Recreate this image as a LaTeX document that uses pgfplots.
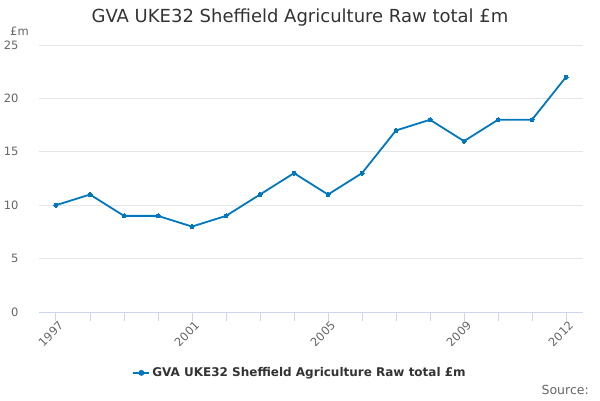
\documentclass[border=0pt]{standalone}
\usepackage{pgfplots}
\pgfplotsset{compat=1.18}
\usepackage{fontspec}
\setmainfont{DejaVu Sans}
\definecolor{linecol}{RGB}{0,119,190}
\definecolor{gridcol}{RGB}{230,230,230}
\definecolor{axiscol}{RGB}{204,214,235}
\definecolor{labcol}{RGB}{102,102,102}
\definecolor{titlecol}{RGB}{51,51,51}
\begin{document}
\begin{tikzpicture}[x=1pt,y=1pt]
\path[use as bounding box] (0,0) rectangle (600,400);
\begin{axis}[
  at={(39pt,88pt)}, anchor=south west,
  scale only axis, width=544pt, height=267pt,
  xmin=1996.5, xmax=2012.5, ymin=0, ymax=25,
  axis x line=bottom, axis y line=left,
  x axis line style={draw=axiscol, line width=1pt, -},
  y axis line style={draw=none},
  xtick={1997,2001,2005,2009,2012},
  xticklabels={1997,2001,2005,2009,2012},
  minor xtick={1998,1999,2000,2002,2003,2004,2006,2007,2008,2010,2011},
  xtick style={draw=axiscol, line width=1pt},
  minor x tick style={draw=axiscol, line width=1pt},
  major tick length=9pt, minor tick length=9pt,
  tick align=outside,
  x tick label style={rotate=45, anchor=north east, font=\fontsize{11.5}{13}\selectfont, text=labcol, inner sep=1pt, xshift=3pt},
  ytick={0,5,...,25},
  ytick style={draw=none},
  y tick label style={font=\fontsize{11.5}{13}\selectfont, text=labcol, xshift=-8pt},
  ymajorgrids, grid style={draw=gridcol, line width=1pt},
  /pgf/number format/assume math mode=true,
  legend style={at={(0.48,-0.228)}, anchor=center, draw=none, fill=none, font=\bfseries\fontsize{12}{14}\selectfont, text=titlecol},
  legend cell align=left,
  legend image code/.code={\draw[linecol, line width=1.8pt] (0pt,0pt) -- (16pt,0pt); \fill[linecol] (8pt,0pt) circle (2pt);},
  clip=false,
]
\addplot[color=linecol, line width=1.8pt, mark=*, mark size=2pt, mark options={fill=linecol, draw=linecol, line width=0pt}] coordinates {
(1997,10) (1998,11) (1999,9) (2000,9) (2001,8) (2002,9) (2003,11) (2004,13)
(2005,11) (2006,13) (2007,17) (2008,18) (2009,16) (2010,18) (2011,18) (2012,22)};
\addlegendentry{GVA UKE32 Sheffield Agriculture Raw total £m}
\end{axis}
\node[anchor=center, text=titlecol, font=\fontsize{18}{21}\selectfont] at (300,382) {GVA UKE32 Sheffield Agriculture Raw total £m};
\node[anchor=west, text=labcol, font=\fontsize{11.5}{13}\selectfont, inner sep=0pt] at (10,369) {£m};
\node[anchor=east, text=labcol, font=\fontsize{12.5}{14}\selectfont, inner sep=0pt] at (589,10) {Source:};
\end{tikzpicture}
\end{document}
